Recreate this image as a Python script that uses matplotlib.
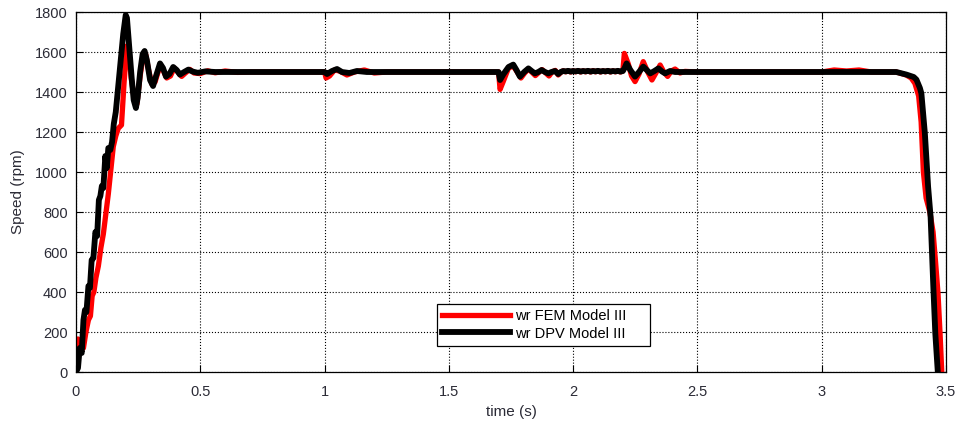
import numpy as np
import matplotlib.pyplot as plt

plt.rcParams['font.family'] = ['Liberation Sans', 'DejaVu Sans']

# rotor speed, FEM model (red)
t_fem = [0, 0.004, 0.008, 0.012, 0.02, 0.03, 0.04, 0.05, 0.058, 0.065, 0.072, 0.08, 0.09,
         0.1, 0.11, 0.12, 0.13, 0.14, 0.15, 0.16, 0.17, 0.183, 0.193, 0.204, 0.212, 0.222,
         0.235, 0.245, 0.258, 0.27, 0.28, 0.292, 0.305, 0.318, 0.335, 0.35, 0.365, 0.38,
         0.395, 0.41, 0.425, 0.44, 0.458, 0.475, 0.5, 0.53, 0.56, 0.6, 0.65, 0.7,
         1.0, 1.006, 1.02, 1.04, 1.06, 1.09, 1.12, 1.16, 1.2, 1.25,
         1.7, 1.706, 1.718, 1.74, 1.759, 1.775, 1.79, 1.805, 1.82, 1.835, 1.848, 1.862,
         1.875, 1.89, 1.903, 1.915, 1.928, 1.94, 1.952,
         1.96, 1.97, 1.98, 1.99, 2.0, 2.01, 2.02, 2.03, 2.04, 2.05, 2.06, 2.07, 2.08,
         2.09, 2.1, 2.11, 2.12, 2.13, 2.14, 2.15, 2.16, 2.17, 2.18, 2.19, 2.2,
         2.206, 2.222, 2.235, 2.249, 2.265, 2.282, 2.3, 2.317, 2.333, 2.35, 2.365, 2.38,
         2.395, 2.41, 2.43, 2.45, 2.5, 3.0, 3.05, 3.1, 3.15, 3.2, 3.3,
         3.34, 3.36, 3.375, 3.39, 3.40, 3.409, 3.42, 3.435, 3.448, 3.458, 3.468, 3.476, 3.483]
w_fem = [0, 60, 165, 150, 110, 120, 200, 260, 280, 380, 400, 470, 530,
         620, 690, 790, 890, 1010, 1127, 1180, 1218, 1235, 1440, 1630, 1600, 1470,
         1360, 1340, 1480, 1580, 1590, 1510, 1440, 1450, 1520, 1510, 1470, 1480,
         1520, 1500, 1478, 1495, 1513, 1495, 1492, 1506, 1496, 1505, 1498, 1500,
         1500, 1470, 1480, 1510, 1505, 1485, 1500, 1510, 1495, 1500,
         1500, 1413, 1450, 1520, 1530, 1500, 1470, 1495, 1515, 1498, 1482, 1498,
         1512, 1495, 1480, 1500, 1508, 1485, 1500,
         1506, 1501, 1506, 1500, 1506, 1501, 1507, 1500, 1506, 1501, 1506, 1500, 1507,
         1501, 1506, 1500, 1506, 1501, 1507, 1500, 1506, 1501, 1506, 1500, 1505,
         1593, 1540, 1480, 1452, 1490, 1552, 1500, 1460, 1495, 1535, 1500, 1478,
         1505, 1515, 1495, 1503, 1500, 1500, 1510, 1505, 1510, 1500, 1500,
         1485, 1470, 1443, 1380, 1250, 1000, 870, 800, 700, 550, 390, 193, 0]

# rotor speed, DPV model (black)
t_dpv = [0, 0.008, 0.015, 0.023, 0.03, 0.036, 0.042, 0.05, 0.056, 0.063, 0.07, 0.078,
         0.085, 0.092, 0.098, 0.104, 0.11, 0.118, 0.124, 0.13, 0.138, 0.145, 0.152,
         0.16, 0.17, 0.18, 0.19, 0.2, 0.205, 0.212, 0.224, 0.232, 0.241, 0.248, 0.258,
         0.268, 0.276, 0.285, 0.298, 0.31, 0.322, 0.338, 0.35, 0.362, 0.376, 0.391,
         0.405, 0.418, 0.435, 0.452, 0.47, 0.49, 0.52, 0.56, 1.0, 1.01, 1.03, 1.05,
         1.07, 1.1, 1.13, 1.17,
         1.7, 1.706, 1.72, 1.74, 1.759, 1.772, 1.786, 1.803, 1.82, 1.833, 1.846, 1.86,
         1.873, 1.887, 1.9, 1.913, 1.927, 1.94, 1.95,
         1.96, 1.97, 1.98, 1.99, 2.0, 2.01, 2.02, 2.03, 2.04, 2.05, 2.06, 2.07, 2.08,
         2.09, 2.1, 2.11, 2.12, 2.13, 2.14, 2.15, 2.16, 2.17, 2.18, 2.19, 2.2,
         2.207, 2.215, 2.23, 2.249, 2.265, 2.282, 2.296, 2.31, 2.327, 2.343, 2.357, 2.37,
         2.39, 2.41, 3.3, 3.341, 3.37, 3.381, 3.395,
         3.401, 3.415, 3.428, 3.438, 3.449, 3.457, 3.467]
w_dpv = [0, 20, 120, 95, 260, 310, 300, 430, 420, 560, 570, 700,
         680, 860, 880, 930, 920, 1080, 1020, 1120, 1110, 1150, 1240,
         1300, 1430, 1560, 1690, 1785, 1770, 1660, 1470, 1360, 1320, 1370, 1500,
         1590, 1605, 1560, 1460, 1430, 1480, 1543, 1520, 1477, 1490, 1525,
         1510, 1487, 1500, 1512, 1502, 1496, 1503, 1500, 1500, 1490, 1505, 1515,
         1500, 1495, 1505, 1500,
         1500, 1460, 1490, 1525, 1537, 1510, 1477, 1500, 1518, 1505, 1493, 1500,
         1510, 1500, 1493, 1500, 1505, 1490, 1500,
         1505, 1503, 1506, 1502, 1505, 1503, 1506, 1502, 1505, 1503, 1506, 1502, 1505,
         1503, 1506, 1502, 1505, 1503, 1506, 1502, 1505, 1503, 1506, 1502, 1505,
         1520, 1543, 1510, 1477, 1500, 1527, 1510, 1493, 1505, 1518, 1503, 1493,
         1505, 1500, 1500, 1487, 1475, 1462, 1420,
         1393, 1193, 927, 777, 427, 193, 0]

fig = plt.figure(figsize=(9.59, 4.28), dpi=100)
ax = fig.add_axes([76 / 959, 56 / 428, 870 / 959, 360 / 428])

ax.plot(t_fem, w_fem, color='#ff0000', lw=3.8, label='wr FEM Model III', solid_joinstyle='round')
ax.plot(t_dpv, w_dpv, color='black', lw=4.2, label='wr DPV Model III', solid_joinstyle='round')

ax.set_xlim(0, 3.5)
ax.set_ylim(0, 1800)
ax.set_xticks(np.arange(0, 3.51, 0.5))
ax.set_xticklabels(['0', '0.5', '1', '1.5', '2', '2.5', '3', '3.5'])
ax.set_yticks(np.arange(0, 1801, 200))
ax.grid(True, linestyle=':', color='black', linewidth=0.8)
ax.tick_params(direction='in', top=True, right=True, length=5, labelsize=10.5,
               labelcolor='#2b2b36', width=0.8)
ax.tick_params(axis='x', pad=9)
ax.tick_params(axis='y', pad=6)
for s in ax.spines.values():
    s.set_linewidth(0.9)

ax.set_xlabel('time (s)', fontsize=11, color='#2b2b36', labelpad=5)
ax.set_ylabel('Speed (rpm)', fontsize=11, color='#2b2b36', labelpad=7)

leg = ax.legend(loc='lower left', bbox_to_anchor=(0.406, 0.053, 0.262, 0.125), mode='expand',
                fontsize=10.5, handlelength=4.7, fancybox=False, framealpha=1,
                borderpad=0.35, labelspacing=0.25, handletextpad=0.3)
leg.get_frame().set_edgecolor('black')
leg.get_frame().set_linewidth(0.9)

fig.savefig('out.png', dpi=100)
